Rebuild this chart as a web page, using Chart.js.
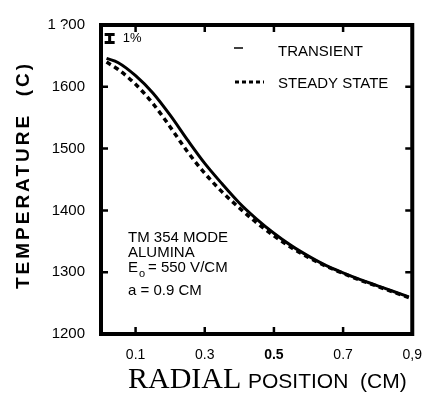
<!DOCTYPE html>
<html>
<head>
<meta charset="utf-8">
<script src="https://cdn.jsdelivr.net/npm/chart.js@4.4.0/dist/chart.umd.min.js"></script>
<style>
  html, body { margin: 0; padding: 0; background: #fff; }
</style>
</head>
<body>
<canvas id="grafico" width="435" height="394"></canvas>
<script>
// valores
const posicao_radial = [0.016, 0.05, 0.1, 0.15, 0.2, 0.25, 0.3, 0.35, 0.4, 0.45, 0.5, 0.55, 0.6, 0.65, 0.7, 0.75, 0.8, 0.85, 0.89]
const temp_transiente = [1646, 1639, 1618, 1590, 1554, 1514, 1476, 1443, 1412, 1386, 1363, 1343, 1326, 1311, 1299, 1288, 1278, 1268, 1260]
const temp_estacionario = [1640, 1628, 1604, 1573, 1535, 1495, 1460, 1430, 1404, 1380, 1359, 1340, 1324, 1310, 1298, 1287, 1277, 1267, 1259]

const y_ticks = [1200, 1300, 1400, 1500, 1600, 1700]
const y_rotulos = ["1200", "1300", "1400", "1500", "1600", "1 ?00"]
const x_ticks = [0.1, 0.3, 0.5, 0.7, 0.9]
const x_rotulos = ["0.1", "0.3", "0.5", "0.7", "0,9"]
const legendas = ["TRANSIENT", "STEADY STATE"]
const notas = ["TM 354 MODE", "ALUMINA", "550 V/CM", "a = 0.9 CM"]

// barra de erro de 1% (centro e meia altura em graus)
const barra_x = 0.025
const barra_centro = 1678
const barra_meia = 6.5

const SANS = "'Liberation Sans', Arial, sans-serif"
const SERIF = "'Liberation Serif', 'Times New Roman', serif"

Chart.defaults.font.family = SANS
Chart.defaults.color = '#000'

const moldura = {
  id: 'moldura',
  afterDraw(chart) {
    const ctx = chart.ctx
    const a = chart.chartArea
    const sx = chart.scales.x
    const sy = chart.scales.y
    ctx.save()
    ctx.strokeStyle = '#000'
    ctx.fillStyle = '#000'

    // caixa
    ctx.lineWidth = 4
    ctx.strokeRect(a.left, a.top, a.right - a.left, a.bottom - a.top)

    // marcas internas
    ctx.lineWidth = 2.5
    x_ticks.slice(0, -1).forEach(v => {
      const px = sx.getPixelForValue(v)
      ctx.beginPath()
      ctx.moveTo(px, a.top); ctx.lineTo(px, a.top + 7)
      ctx.moveTo(px, a.bottom); ctx.lineTo(px, a.bottom - 7)
      ctx.stroke()
    })
    y_ticks.slice(1, -1).forEach(v => {
      const py = sy.getPixelForValue(v)
      ctx.beginPath()
      ctx.moveTo(a.left, py); ctx.lineTo(a.left + 7, py)
      ctx.moveTo(a.right, py); ctx.lineTo(a.right - 7, py)
      ctx.stroke()
    })

    // barra de erro 1%
    const bx = sx.getPixelForValue(barra_x)
    const b1 = sy.getPixelForValue(barra_centro + barra_meia)
    const b2 = sy.getPixelForValue(barra_centro - barra_meia)
    ctx.lineWidth = 3
    ctx.beginPath()
    ctx.moveTo(bx, b1); ctx.lineTo(bx, b2)
    ctx.moveTo(bx - 5, b1); ctx.lineTo(bx + 5, b1)
    ctx.moveTo(bx - 5, b2); ctx.lineTo(bx + 5, b2)
    ctx.stroke()
    ctx.font = '13px ' + SANS
    ctx.textBaseline = 'middle'
    ctx.fillText('1%', bx + 13, (b1 + b2) / 2)

    // legenda
    ctx.lineWidth = 1.5
    ctx.beginPath()
    ctx.moveTo(234, 48); ctx.lineTo(243, 48)
    ctx.stroke()
    ctx.lineWidth = 3
    ctx.setLineDash([4, 3])
    ctx.beginPath()
    ctx.moveTo(235, 82); ctx.lineTo(264, 82)
    ctx.stroke()
    ctx.setLineDash([])
    ctx.font = '15px ' + SANS
    ctx.textBaseline = 'middle'
    ctx.fillText(legendas[0], 278, 52)
    ctx.fillText(legendas[1], 278, 84)

    // notas
    ctx.textBaseline = 'alphabetic'
    ctx.font = '15px ' + SANS
    ctx.fillText(notas[0], 128, 242)
    ctx.fillText(notas[1], 128, 257)
    ctx.fillText('E', 128, 272)
    ctx.font = '11px ' + SANS
    ctx.fillText('o', 139, 277)
    ctx.font = '15px ' + SANS
    ctx.fillText('= ' + notas[2], 148, 272)
    ctx.fillText(notas[3], 128, 295)

    // titulos dos eixos
    ctx.font = '30px ' + SERIF
    ctx.fillText('RADIAL', 128, 388)
    ctx.font = '21px ' + SANS
    ctx.fillText('POSITION  (CM)', 248, 388)

    ctx.translate(24, 175)
    ctx.rotate(-Math.PI / 2)
    ctx.font = 'bold 19px ' + SANS
    ctx.letterSpacing = '3px'
    ctx.textAlign = 'center'
    ctx.textBaseline = 'middle'
    ctx.fillText('TEMPERATURE  (C)', 0, 0)
    ctx.restore()
  }
}

const monta_pontos = (xs, ys) => xs.map((x, i) => ({ x: x, y: ys[i] }))

const grafico = new Chart(document.getElementById('grafico'), {
  type: 'line',
  data: {
    datasets: [
      {
        label: legendas[0],
        data: monta_pontos(posicao_radial, temp_transiente),
        borderColor: '#000',
        borderWidth: 3,
        pointRadius: 0,
        cubicInterpolationMode: 'monotone',
        fill: false
      },
      {
        label: legendas[1],
        data: monta_pontos(posicao_radial, temp_estacionario),
        borderColor: '#000',
        borderWidth: 3.5,
        borderDash: [5, 4],
        pointRadius: 0,
        cubicInterpolationMode: 'monotone',
        fill: false
      }
    ]
  },
  options: {
    responsive: false,
    animation: false,
    devicePixelRatio: 1,
    layout: { padding: { top: 19, right: 11, left: 0, bottom: 0 } },
    plugins: {
      legend: { display: false },
      tooltip: { enabled: false }
    },
    scales: {
      x: {
        type: 'linear',
        min: 0,
        max: 0.9,
        grid: { display: false, drawTicks: false },
        border: { display: false },
        afterBuildTicks: axis => { axis.ticks = x_ticks.map(v => ({ value: v })) },
        afterFit: axis => { axis.height = 60 },
        ticks: {
          autoSkip: false,
          maxRotation: 0,
          padding: 13,
          color: '#000',
          callback: (v, i) => x_rotulos[i],
          font: ctx => ({ family: SANS, size: 14, weight: ctx.tick && ctx.tick.value === 0.5 ? 'bold' : 'normal' })
        }
      },
      y: {
        type: 'linear',
        min: 1200,
        max: 1700,
        grid: { display: false, drawTicks: false },
        border: { display: false },
        afterBuildTicks: axis => { axis.ticks = y_ticks.map(v => ({ value: v })) },
        afterFit: axis => { axis.width = 101 },
        ticks: {
          autoSkip: false,
          padding: 16,
          color: '#000',
          callback: (v, i) => y_rotulos[i],
          font: { family: SANS, size: 15 }
        }
      }
    }
  },
  plugins: [moldura]
})
</script>
</body>
</html>
